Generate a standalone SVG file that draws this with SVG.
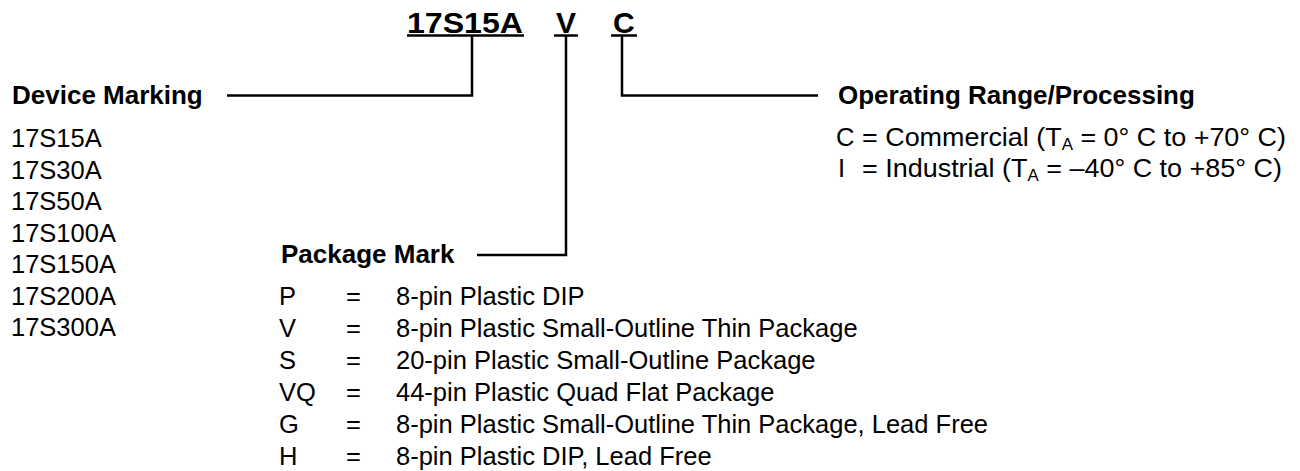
<svg xmlns="http://www.w3.org/2000/svg" width="1300" height="471" viewBox="0 0 1300 471">
<style>
text{font-family:"Liberation Sans",Arial,Helvetica,sans-serif;fill:#000}
.b{font-weight:bold;font-size:26px}
.r{font-size:25.5px}
.t{font-weight:bold;font-size:30px}
.ln{stroke:#000;stroke-width:2.5;fill:none}
.sub{font-size:16px}
</style>
<rect width="1300" height="471" fill="#fff"/>
<g id="title">
<text class="t" x="407" y="33" textLength="116" lengthAdjust="spacingAndGlyphs">17S15A</text>
<text class="t" x="556" y="33">V</text>
<text class="t" x="613" y="33">C</text>
<line class="ln" x1="407" y1="35.5" x2="524" y2="35.5"/>
<line class="ln" x1="554" y1="35.5" x2="578" y2="35.5"/>
<line class="ln" x1="611" y1="35.5" x2="637" y2="35.5"/>
</g>
<g id="connectors">
<polyline class="ln" points="472,36 472,95.5 227,95.5"/>
<polyline class="ln" points="566,36 566,255 477,255"/>
<polyline class="ln" points="622,36 622,95.5 818,95.5"/>
</g>
<g id="device-marking">
<text class="b" x="12" y="104">Device Marking</text>
<text class="r" x="11" y="147">17S15A</text>
<text class="r" x="11" y="178.5">17S30A</text>
<text class="r" x="11" y="210">17S50A</text>
<text class="r" x="11" y="241.5">17S100A</text>
<text class="r" x="11" y="273">17S150A</text>
<text class="r" x="11" y="304.5">17S200A</text>
<text class="r" x="11" y="336">17S300A</text>
</g>
<g id="operating-range">
<text class="b" x="838" y="104">Operating Range/Processing</text>
<text class="r" x="836" y="146">C</text>
<text class="r" x="862" y="146" textLength="424" lengthAdjust="spacingAndGlyphs">= Commercial (T<tspan class="sub" dy="4">A</tspan><tspan dy="-4"> = 0° C to +70° C)</tspan></text>
<text class="r" x="838" y="177">I</text>
<text class="r" x="862" y="177" textLength="420" lengthAdjust="spacingAndGlyphs">= Industrial (T<tspan class="sub" dy="4">A</tspan><tspan dy="-4"> = –40° C to +85° C)</tspan></text>
</g>
<g id="package-mark">
<text class="b" x="281" y="263">Package Mark</text>
<text class="r" x="279" y="305">P</text>
<text class="r" x="279" y="337">V</text>
<text class="r" x="279" y="369">S</text>
<text class="r" x="279" y="401">VQ</text>
<text class="r" x="279" y="433">G</text>
<text class="r" x="279" y="465">H</text>
<text class="r" x="346" y="305">=</text>
<text class="r" x="346" y="337">=</text>
<text class="r" x="346" y="369">=</text>
<text class="r" x="346" y="401">=</text>
<text class="r" x="346" y="433">=</text>
<text class="r" x="346" y="465">=</text>
<text class="r" x="396" y="305">8-pin Plastic DIP</text>
<text class="r" x="396" y="337">8-pin Plastic Small-Outline Thin Package</text>
<text class="r" x="396" y="369">20-pin Plastic Small-Outline Package</text>
<text class="r" x="396" y="401">44-pin Plastic Quad Flat Package</text>
<text class="r" x="396" y="433">8-pin Plastic Small-Outline Thin Package, Lead Free</text>
<text class="r" x="396" y="465">8-pin Plastic DIP, Lead Free</text>
</g>
</svg>
